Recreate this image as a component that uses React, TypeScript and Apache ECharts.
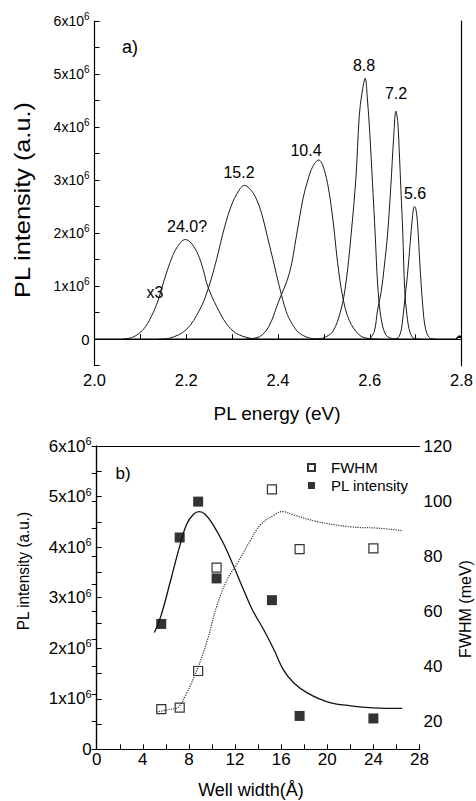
import React, { useEffect, useRef } from 'react';
import * as echarts from 'echarts';

const FONT = '"Liberation Sans", Arial, Helvetica, sans-serif';

// ---- Panel a) PL spectra: [energy (eV), intensity (x10^6 a.u.)] ----
const spec240: number[][] = [[2.06,0],[2.084,0.04],[2.106,0.18],[2.124,0.43],[2.139,0.74],[2.150,1.06],[2.164,1.43],[2.179,1.72],[2.198,1.88],[2.211,1.81],[2.226,1.59],[2.237,1.31],[2.247,0.99],[2.266,0.62],[2.287,0.30],[2.309,0.11],[2.338,0.02],[2.36,0]];
const spec152: number[][] = [[2.14,0],[2.164,0.02],[2.200,0.18],[2.229,0.55],[2.247,0.93],[2.266,1.50],[2.280,2.0],[2.295,2.44],[2.309,2.72],[2.327,2.90],[2.342,2.80],[2.353,2.64],[2.364,2.38],[2.375,2.0],[2.389,1.50],[2.403,0.99],[2.418,0.52],[2.430,0.30],[2.447,0.11],[2.476,0.01],[2.50,0]];
const spec104: number[][] = [[2.33,0],[2.36,0.05],[2.38,0.24],[2.400,0.68],[2.425,1.25],[2.440,1.94],[2.454,2.63],[2.465,3.0],[2.476,3.26],[2.489,3.38],[2.497,3.29],[2.508,2.94],[2.516,2.50],[2.523,2.0],[2.530,1.43],[2.541,0.80],[2.555,0.36],[2.577,0.08],[2.599,0.01],[2.62,0]];
const spec88: number[][] = [[2.48,0],[2.497,0.02],[2.519,0.14],[2.537,0.55],[2.548,1.06],[2.559,1.94],[2.570,3.07],[2.577,4.20],[2.583,4.64],[2.590,4.92],[2.595,4.51],[2.600,3.88],[2.606,2.94],[2.612,1.94],[2.617,1.06],[2.624,0.43],[2.635,0.08],[2.650,0.01],[2.665,0]];
const spec72: number[][] = [[2.600,0],[2.610,0.15],[2.617,0.55],[2.625,0.9],[2.632,1.4],[2.639,2.0],[2.646,2.9],[2.652,3.8],[2.657,4.3],[2.661,4.1],[2.664,3.6],[2.668,2.8],[2.672,2.0],[2.676,0.95],[2.681,0.45],[2.688,0.12],[2.697,0.01],[2.71,0]];
const spec56: number[][] = [[2.655,0],[2.664,0.05],[2.670,0.25],[2.676,0.72],[2.682,1.2],[2.688,1.8],[2.693,2.3],[2.697,2.5],[2.700,2.48],[2.704,2.2],[2.709,1.45],[2.715,0.68],[2.722,0.18],[2.733,0.01],[2.745,0]];
const baseline: number[][] = [[2.0,0],[2.788,0],[2.795,0.06],[2.8,0.03]];
const peakLabels = ['24.0?', '15.2', '10.4', '8.8', '7.2', '5.6'];

// ---- Panel b) ----
const wellWidth = [5.6, 7.2, 8.8, 10.4, 15.2, 17.6, 24.0];
const plIntensity = [2.48, 4.19, 4.90, 3.38, 2.95, 0.66, 0.61]; // x10^6
const fwhm = [24.6, 25.1, 38.4, 75.9, 104.3, 82.6, 82.9]; // meV
const plFit: number[][] = [[5.0,2.31],[5.6,2.66],[6.4,3.33],[7.2,4.02],[7.8,4.45],[8.4,4.65],[8.9,4.70],[9.4,4.65],[10.1,4.44],[11.0,4.07],[11.9,3.61],[12.75,3.15],[13.5,2.76],[14.5,2.36],[15.4,1.96],[16.2,1.57],[17.1,1.31],[18.3,1.11],[20.0,0.94],[22.0,0.86],[24.0,0.82],[26.5,0.81]];
const fwhmFit: number[][] = [[5.2,23.6],[6.4,24.5],[7.1,25.4],[7.8,30.3],[8.7,38.8],[9.6,49.6],[10.4,61.7],[11.3,71.4],[12.2,77.5],[13.3,85.5],[14.2,91.4],[15.4,95.0],[16.1,96.2],[17.1,95.0],[19.1,92.6],[22.0,90.7],[24.4,90.2],[26.5,89.3]];

const axisLineStyle = { color: '#000', width: 1.2 };
const tickStyle = { show: true, inside: true, length: 5, lineStyle: { color: '#000', width: 1 } };

function sciLabel(v: number) {
  const n = Math.round(v * 10);
  if (n < 0 || n % 10 !== 0) return '';
  const k = n / 10;
  return k === 0 ? '0' : `{b|${k}x10}{s|6}`;
}

export default function App() {
  const ref = useRef<HTMLDivElement>(null);
  useEffect(() => {
    if (!ref.current) return;
    const chart = echarts.init(ref.current, null, { renderer: 'svg' });
    const specs = [spec240, spec152, spec104, spec88, spec72, spec56];
    const txt = (text: string, x: number, y: number, size: number, extra: any = {}) => ({
      type: 'text', x, y, ...extra,
      style: { text, fontSize: size, fontFamily: FONT, fill: '#000', align: 'center', verticalAlign: 'middle' },
    });
    const labelPos = [[187, 226], [239, 172], [306, 150], [364, 65], [396, 93], [415, 193]];
    const option: any = {
      animation: false,
      backgroundColor: '#fff',
      grid: [
        { left: 94.5, right: 13.5, top: 21, bottom: 435.3 },
        { left: 96.7, right: 56.5, top: 446, bottom: 51.7 },
      ],
      xAxis: [
        {
          gridIndex: 0, type: 'value', min: 2.0, max: 2.8, interval: 0.1, position: 'bottom',
          axisLine: { show: true, lineStyle: axisLineStyle }, axisTick: tickStyle, splitLine: { show: false },
          axisLabel: {
            margin: 6, fontSize: 16.5, fontFamily: FONT, color: '#000',
            formatter: (v: number) => { const n = Math.round(v * 10); return n % 2 === 0 ? (n / 10).toFixed(1) : ''; },
          },
        },
        {
          gridIndex: 1, type: 'value', min: 0, max: 28, interval: 2, position: 'bottom',
          axisLine: { show: true, lineStyle: axisLineStyle }, axisTick: tickStyle, splitLine: { show: false },
          axisLabel: {
            margin: 2, fontSize: 17, fontFamily: FONT, color: '#000',
            formatter: (v: number) => (Math.round(v) % 4 === 0 ? String(Math.round(v)) : ''),
          },
        },
        {
          gridIndex: 1, type: 'value', min: 0, max: 28, position: 'top',
          axisLine: { show: true, lineStyle: axisLineStyle }, axisTick: { show: false }, axisLabel: { show: false }, splitLine: { show: false },
        },
      ],
      yAxis: [
        {
          gridIndex: 0, type: 'value', min: -0.5, max: 6, interval: 0.5, position: 'left',
          axisLine: { show: true, lineStyle: axisLineStyle }, axisTick: tickStyle, splitLine: { show: false },
          axisLabel: {
            margin: 5, fontSize: 15, fontFamily: FONT, color: '#000', formatter: sciLabel,
            rich: {
              b: { fontSize: 14, fontFamily: FONT, color: '#000' },
              s: { fontSize: 10, fontFamily: FONT, color: '#000', padding: [0, 0, 9, 0] },
            },
          },
        },
        {
          gridIndex: 0, type: 'value', min: -0.5, max: 6, position: 'right',
          axisLine: { show: true, lineStyle: axisLineStyle }, axisTick: { show: false }, axisLabel: { show: false }, splitLine: { show: false },
        },
        {
          gridIndex: 1, type: 'value', min: 0, max: 6, interval: 0.5, position: 'left',
          axisLine: { show: true, lineStyle: axisLineStyle }, axisTick: tickStyle, splitLine: { show: false },
          axisLabel: {
            margin: 5, fontSize: 17, fontFamily: FONT, color: '#000', formatter: sciLabel,
            rich: {
              b: { fontSize: 17, fontFamily: FONT, color: '#000' },
              s: { fontSize: 11, fontFamily: FONT, color: '#000', padding: [0, 0, 10, 0] },
            },
          },
        },
        {
          gridIndex: 1, type: 'value', min: 10, max: 120, interval: 10, position: 'right',
          axisLine: { show: true, lineStyle: axisLineStyle }, axisTick: tickStyle, splitLine: { show: false },
          axisLabel: {
            margin: 4, fontSize: 17, fontFamily: FONT, color: '#000',
            formatter: (v: number) => (Math.round(v) % 20 === 0 ? String(Math.round(v)) : ''),
          },
        },
      ],
      legend: {
        data: ['FWHM', 'PL intensity'], orient: 'vertical', left: 302, top: 454, selectedMode: false,
        itemWidth: 7, itemHeight: 7, itemGap: 1,
        textStyle: { fontSize: 15, fontFamily: FONT, color: '#000', lineHeight: 17, padding: [0, 0, 0, 11] },
      },
      series: [
        ...specs.map((d, i) => ({
          name: 'spectrum ' + peakLabels[i], type: 'line', xAxisIndex: 0, yAxisIndex: 0, data: d,
          smooth: 0.35, symbol: 'none', lineStyle: { color: '#1a1a1a', width: 1 },
        })),
        { name: 'baseline', type: 'line', xAxisIndex: 0, yAxisIndex: 0, data: baseline, symbol: 'none', lineStyle: { color: '#000', width: 1.6 } },
        { name: 'PL fit', type: 'line', xAxisIndex: 1, yAxisIndex: 2, data: plFit, smooth: 0.4, symbol: 'none', lineStyle: { color: '#111', width: 1.3 } },
        { name: 'FWHM fit', type: 'line', xAxisIndex: 1, yAxisIndex: 3, data: fwhmFit, smooth: 0.4, symbol: 'none', lineStyle: { color: '#333', width: 1.2, type: 'dotted' } },
        {
          name: 'FWHM', type: 'scatter', xAxisIndex: 1, yAxisIndex: 3, symbol: 'rect', symbolSize: 9,
          data: wellWidth.map((w, i) => [w, fwhm[i]]),
          itemStyle: { color: '#fff', borderColor: '#000', borderWidth: 1.2 },
        },
        {
          name: 'PL intensity', type: 'scatter', xAxisIndex: 1, yAxisIndex: 2, symbol: 'rect', symbolSize: 10,
          data: wellWidth.map((w, i) => [w, plIntensity[i]]),
          itemStyle: { color: '#000' },
        },
      ],
      graphic: [
        txt('a)', 130, 47, 18),
        ...peakLabels.map((t, i) => txt(t, labelPos[i][0], labelPos[i][1], 16)),
        txt('x3', 155, 292, 16),
        txt('b)', 123, 473, 17),
        txt('PL intensity (a.u.)', 23, 200, 22, { rotation: Math.PI / 2, scaleX: 1.15 }),
        txt('PL energy (eV)', 277, 413, 19),
        txt('PL intensity (a.u.)', 23, 571, 17, { rotation: Math.PI / 2, scaleX: 0.9 }),
        txt('Well width(Å)', 251, 790, 18),
        txt('FWHM (meV)', 465, 609, 16, { rotation: Math.PI / 2 }),
      ],
    };
    chart.setOption(option);
    return () => chart.dispose();
  }, []);
  return <div ref={ref} style={{ position: 'fixed', left: 0, top: 0, width: 476, height: 801, background: '#fff' }} />;
}
